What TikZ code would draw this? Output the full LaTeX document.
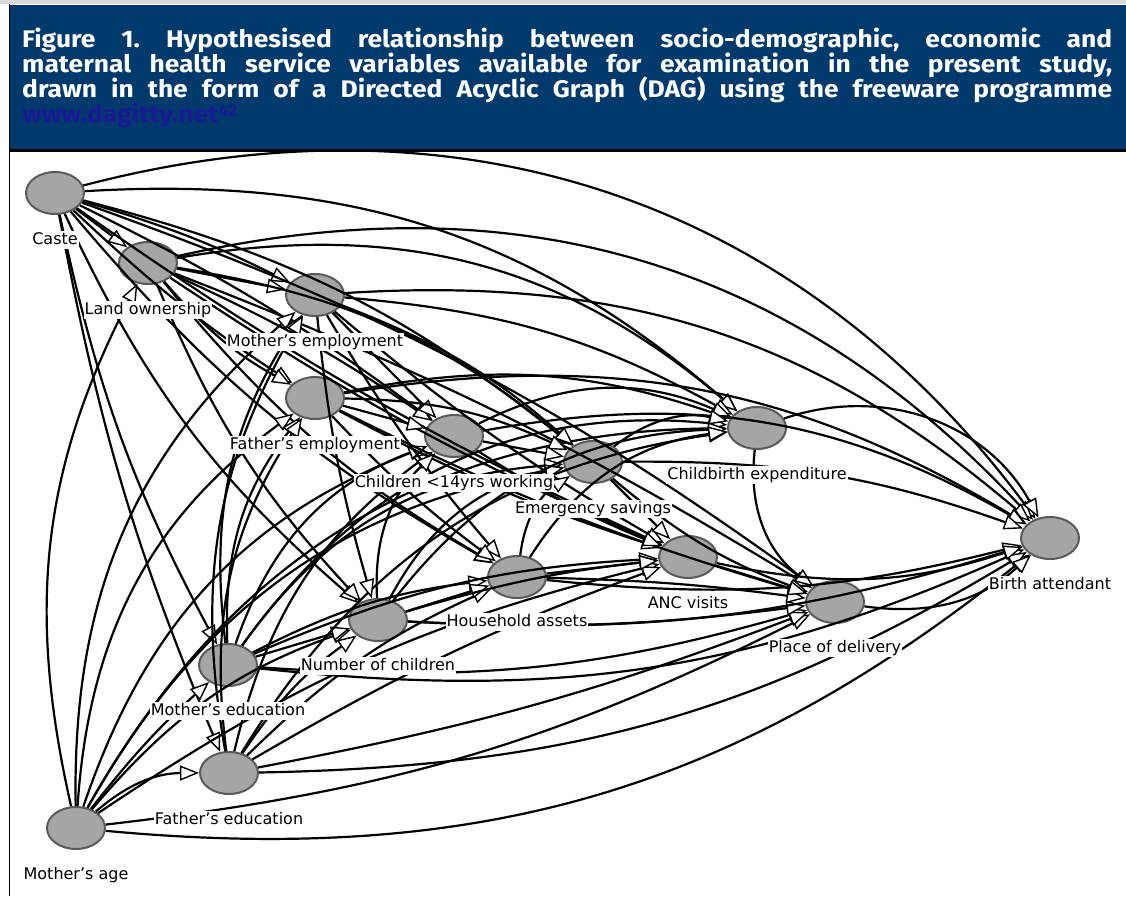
\documentclass[tikz,border=0pt]{standalone}
\usepackage{fontspec}
\setmainfont{DejaVu Sans}
\newfontfamily\headfont[FakeStretch=1.1]{Fira Sans}
\usetikzlibrary{positioning,shapes.geometric,arrows.meta}

\definecolor{headblue}{RGB}{0,58,108}
\definecolor{linkblue}{RGB}{25,25,150}
\definecolor{nodegray}{RGB}{165,165,165}
\definecolor{rimgray}{RGB}{90,90,90}

\tikzstyle{var} = [draw=rimgray, fill=nodegray, ellipse, line width=2pt, minimum width=58pt, minimum height=42pt, inner sep=0pt]
\tikzstyle{lab} = [fill=white, inner sep=1pt, text height=12pt, text depth=4pt, font=\fontsize{16}{16}\selectfont]
\tikzstyle{dep} = [line width=2.2pt, -{Triangle[length=19pt,width=15pt,fill=white,line width=1.4pt]}]

\begin{document}
\begin{tikzpicture}[x=1pt,y=-1pt]
  \useasboundingbox (0,0) rectangle (1126,896);
  % caption bar
  \fill[black!15] (0,0) rectangle (1126,4);
  \fill[headblue] (10,5) rectangle (1126,150);
  \draw[line width=3pt] (10,150.5) -- (1126,150.5);
  \draw[line width=1.5pt] (9.5,4) -- (9.5,896);
  \node[anchor=north west, text width=1090pt, align=justify, inner sep=0pt, text=white,
        font=\headfont\bfseries\frenchspacing] (title) at (22,28)
    {\fontsize{24}{25}\selectfont\lineskiplimit=-40pt\relax
     Figure 1. Hypothesised relationship between socio-demographic, economic and\linebreak
     maternal health service variables available for examination in the present study,\linebreak
     drawn in the form of a Directed Acyclic Graph (DAG) using the freeware programme\linebreak
     {\color{linkblue}www.dagitty.net\raisebox{6pt}{\fontsize{16}{16}\selectfont 42}}\par};

  % variables
  \node at (55,193)   (caste)  [var] {};
  \node at (148,263)  (land)   [var] {};
  \node at (315,295)  (moemp)  [var] {};
  \node at (315,398)  (faemp)  [var] {};
  \node at (454,436)  (child)  [var] {};
  \node at (593,462)  (save)   [var] {};
  \node at (757,428)  (cbe)    [var] {};
  \node at (688,557)  (anc)    [var] {};
  \node at (517,577)  (assets) [var] {};
  \node at (378,620)  (numch)  [var] {};
  \node at (228,665)  (moedu)  [var] {};
  \node at (229,773)  (faedu)  [var] {};
  \node at (76,828)   (moage)  [var] {};
  \node at (835,602)  (place)  [var] {};
  \node at (1050,538) (birth)  [var] {};

  % dependencies
  \path[dep] (caste) edge (land)
                     edge[bend left=5] (moemp)
                     edge[bend right=5] (faemp)
                     edge[bend left=5] (child)
                     edge[bend left=12] (save)
                     edge[bend left=22] (cbe)
                     edge[bend left=34] (birth)
                     edge[bend right=5] (anc)
                     edge[bend right=10] (assets)
                     edge[bend right=12] (numch)
                     edge[bend right=8] (moedu)
                     edge[bend right=6] (faedu)
                     edge[bend left=8] (place);
  \path[dep] (land) edge (moemp)
                    edge[bend right=10] (faemp)
                    edge[bend left=5] (child)
                    edge[bend left=15] (save)
                    edge[bend left=25] (cbe)
                    edge[bend left=30] (birth)
                    edge[bend right=5] (anc)
                    edge[bend right=10] (assets)
                    edge[bend right=10] (numch)
                    edge[bend left=5] (place);
  \path[dep] (moage) edge[bend left=20] (land)
                     edge[bend left=25] (moemp)
                     edge[bend left=25] (faemp)
                     edge[bend left=25] (child)
                     edge[bend left=25] (save)
                     edge[bend left=30] (cbe)
                     edge[bend left=15] (numch)
                     edge[bend left=5] (moedu)
                     edge[bend left=20] (faedu)
                     edge[bend left=10] (anc)
                     edge[bend right=10] (place)
                     edge[bend right=22] (birth);
  \path[dep] (moedu) edge[bend left=20] (moemp)
                     edge[bend left=20] (faemp)
                     edge[bend left=25] (child)
                     edge (numch)
                     edge[bend left=10] (assets)
                     edge[bend left=25] (save)
                     edge[bend left=30] (cbe)
                     edge[bend left=10] (anc)
                     edge[bend right=10] (place)
                     edge[bend right=15] (birth);
  \path[dep] (faedu) edge[bend left=20] (faemp)
                     edge[bend left=20] (moemp)
                     edge[bend left=20] (child)
                     edge[bend left=10] (numch)
                     edge[bend left=10] (assets)
                     edge[bend left=25] (cbe)
                     edge[bend left=5] (anc)
                     edge[bend right=5] (place)
                     edge[bend right=15] (birth);
  \path[dep] (moemp) edge (child)
                     edge[bend left=10] (save)
                     edge[bend left=12] (cbe)
                     edge[bend left=22] (birth)
                     edge[bend right=5] (numch)
                     edge[bend right=5] (assets)
                     edge[bend right=5] (anc);
  \path[dep] (faemp) edge (child)
                     edge[bend left=12] (save)
                     edge[bend left=15] (cbe)
                     edge[bend left=20] (birth)
                     edge[bend right=5] (assets)
                     edge[bend right=5] (anc)
                     edge[bend right=5] (place);
  \path[dep] (child) edge (save)
                     edge[bend left=25] (cbe)
                     edge[bend right=5] (anc)
                     edge[bend left=20] (birth);
  \path[dep] (numch) edge[bend left=25] (child)
                     edge (assets)
                     edge[bend left=25] (save)
                     edge[bend left=5] (anc)
                     edge[bend left=25] (cbe)
                     edge[bend right=5] (place)
                     edge[bend right=10] (birth);
  \path[dep] (assets) edge[bend left=25] (save)
                      edge (anc)
                      edge[bend left=25] (cbe)
                      edge[bend left=3] (place)
                      edge[bend right=10] (birth);
  \path[dep] (save) edge (anc)
                    edge[bend left=25] (cbe)
                    edge[bend right=10] (place)
                    edge[bend left=10] (birth);
  \path[dep] (cbe) edge[bend right=30] (place)
                   edge[bend left=40] (birth);
  \path[dep] (anc) edge (place)
                   edge[bend right=15] (birth);
  \path[dep] (place) edge[bend right=25] (birth);

  % names of the variables
  \node[lab, below=16pt of caste]  {Caste};
  \node[lab, below=16pt of land]   {Land ownership};
  \node[lab, below=16pt of moemp]  {Mother's employment};
  \node[lab, below=16pt of faemp]  {Father's employment};
  \node[lab, below=16pt of child]  {Children <14yrs working};
  \node[lab, below=16pt of save]   {Emergency savings};
  \node[lab, below=16pt of cbe]    {Childbirth expenditure};
  \node[lab, below=16pt of anc]    {ANC visits};
  \node[lab, below=14pt of assets] {Household assets};
  \node[lab, below=15pt of numch]  {Number of children};
  \node[lab, below=15pt of moedu]  {Mother's education};
  \node[lab, below=16pt of faedu]  {Father's education};
  \node[lab, below=16pt of moage]  {Mother's age};
  \node[lab, below=15pt of place]  {Place of delivery};
  \node[lab, below=16pt of birth]  {Birth attendant};
\end{tikzpicture}
\end{document}
